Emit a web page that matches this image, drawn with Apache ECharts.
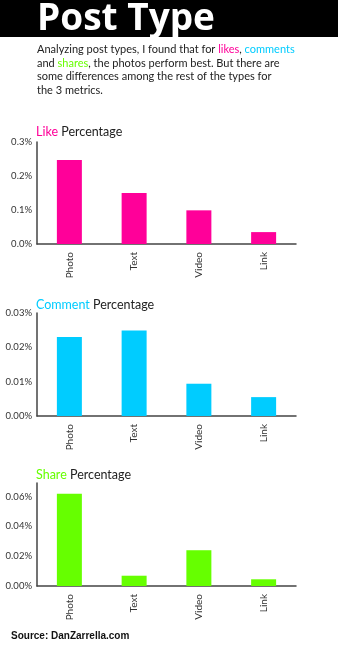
<!DOCTYPE html>
<html><head><meta charset="utf-8">
<style>html,body{margin:0;padding:0;background:#fff;}#c{width:338px;height:648px;}</style>
<script src="https://cdn.jsdelivr.net/npm/echarts@6/dist/echarts.min.js"></script>
</head><body><div id="c"></div>
<script>
var categories = ['Photo', 'Text', 'Video', 'Link'];
var likeValues = [0.247, 0.150, 0.099, 0.035];
var commentValues = [0.0230, 0.0249, 0.0094, 0.0055];
var shareValues = [0.0619, 0.0069, 0.0240, 0.0045];
var likeTicks = { max: 0.3, interval: 0.1, digits: 1 };
var commentTicks = { max: 0.03, interval: 0.01, digits: 2 };
var shareTicks = { max: 0.0691, interval: 0.02, digits: 2 };

var colors = ['#ff0099', '#00ccff', '#66ff00'];
var font = 'Lato, "Noto Sans", sans-serif';
var chart = echarts.init(document.getElementById('c'), null, { renderer: 'canvas' });

var grids = [
  { left: 37, width: 259, top: 142, height: 102 },
  { left: 37, width: 259, top: 313, height: 103 },
  { left: 37, width: 259, top: 483, height: 103 }
];
var ticks = [likeTicks, commentTicks, shareTicks];
var vals = [likeValues, commentValues, shareValues];

var xAxes = [], yAxes = [], series = [];
for (var i = 0; i < 3; i++) {
  (function (i) {
    xAxes.push({
      type: 'category', gridIndex: i, data: categories,
      axisLine: { lineStyle: { color: '#444', width: 1.5 } },
      axisTick: { show: false },
      axisLabel: { rotate: 90, color: '#333', fontSize: 10, fontFamily: font, margin: 8 }
    });
    yAxes.push({
      type: 'value', gridIndex: i, min: 0, max: ticks[i].max, interval: ticks[i].interval,
      axisLine: { show: true, lineStyle: { color: '#444', width: 1.5 } },
      axisTick: { show: false },
      splitLine: { show: false },
      axisLabel: {
        color: '#333', fontSize: 9.5, fontFamily: font, margin: 5, showMaxLabel: i === 2 ? false : true,
        formatter: function (v) { return v.toFixed(ticks[i].digits) + '%'; }
      }
    });
    series.push({
      type: 'bar', xAxisIndex: i, yAxisIndex: i, data: vals[i], barWidth: 25,
      itemStyle: { color: colors[i] }, silent: true
    });
  })(i);
}

var titleStyleRich = {
  like: { fill: colors[0], fontSize: 12.5, fontFamily: font },
  comment: { fill: colors[1], fontSize: 12.5, fontFamily: font },
  share: { fill: colors[2], fontSize: 12.5, fontFamily: font },
  b: { fill: '#222', fontSize: 12.5, fontFamily: font }
};
var paraRich = {
  n: { fill: '#222', fontSize: 11, fontFamily: font, lineHeight: 13.5 },
  p: { fill: colors[0], fontSize: 11, fontFamily: font, lineHeight: 13.5 },
  c: { fill: colors[1], fontSize: 11, fontFamily: font, lineHeight: 13.5 },
  g: { fill: colors[2], fontSize: 11, fontFamily: font, lineHeight: 13.5 }
};

chart.setOption({
  animation: false,
  backgroundColor: '#fff',
  grid: grids,
  xAxis: xAxes,
  yAxis: yAxes,
  series: series,
  graphic: [
    { type: 'rect', shape: { x: 0, y: 0, width: 338, height: 37 }, style: { fill: '#000' } },
    { type: 'text', left: 37, top: 1, style: { text: 'Post Type', fill: '#fff', font: 'bold 37px "Open Sans", Lato, sans-serif' } },
    { type: 'text', left: 37, top: 44, style: {
        text: '{n|Analyzing post types, I found that for }{p|likes}{n|, }{c|comments}\n{n|and }{g|shares}{n|, the photos perform best. But there are}\n{n|some differences among the rest of the types for}\n{n|the 3 metrics.}',
        rich: paraRich } },
    { type: 'text', left: 36, top: 125, style: { text: '{like|Like}{b| Percentage}', rich: titleStyleRich } },
    { type: 'text', left: 36, top: 298, style: { text: '{comment|Comment}{b| Percentage}', rich: titleStyleRich } },
    { type: 'text', left: 36, top: 468, style: { text: '{share|Share}{b| Percentage}', rich: titleStyleRich } },
    { type: 'text', left: 11, top: 631, style: { text: 'Source: DanZarrella.com', fill: '#111', font: 'bold 10px "Liberation Sans", Arial, sans-serif' } }
  ]
});
</script></body></html>
